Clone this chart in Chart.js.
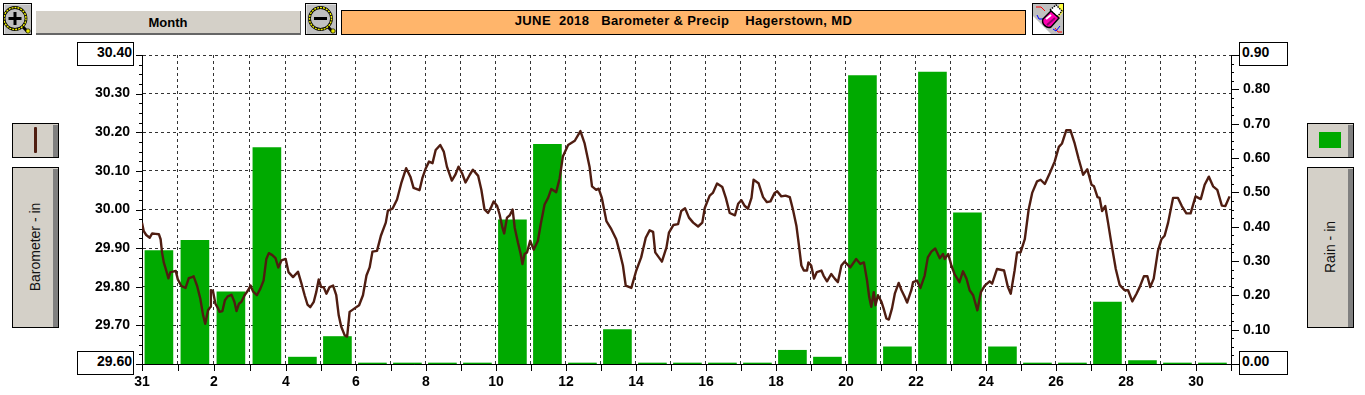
<!DOCTYPE html>
<html>
<head>
<meta charset="utf-8">
<title>JUNE 2018 Barometer & Precip</title>
<script src="https://cdn.jsdelivr.net/npm/chart.js@4"></script>
<style>
html,body{margin:0;padding:0;background:#fff;overflow:hidden}
#wrap{position:relative;width:1365px;height:395px;font-family:"Liberation Sans",Arial,sans-serif}
#chart{position:absolute;left:0;top:0}
.abs{position:absolute;box-sizing:border-box}
.btn{background:#d4d0c8;border:1px solid #000}
.strip{position:absolute;right:0;top:1px;bottom:0;width:5px;background:#808080}
.rot{position:absolute;left:0;top:0;font-size:14px;white-space:nowrap;color:#111;transform:translate(-50%,-50%) rotate(-90deg)}
.valbox{border:1px solid #000;background:#fff;font-weight:bold;font-size:14px;line-height:19px;color:#000}
.icon{border:1px solid #000;background:#c0c0c0;padding:0}
.icon svg{display:block}
</style>
</head>
<body>
<div id="wrap">
  <div class="abs icon" style="left:3px;top:3px;width:29px;height:32px">
    <svg width="27" height="30" viewBox="0 0 27 30">
      <path d="M0 30V0H27" fill="none" stroke="#fff" stroke-width="1"/>
      <line x1="19" y1="23" x2="24" y2="28" stroke="#000" stroke-width="3"/>
      <circle cx="24" cy="27" r="2.2" fill="#e8e800" stroke="#000" stroke-width="0.7"/>
      <circle cx="11" cy="14.5" r="11" fill="#c0c0c0" stroke="#000" stroke-width="2.8"/>
      <circle cx="11" cy="14.5" r="11" fill="none" stroke="#f0f000" stroke-width="1.4" stroke-dasharray="2 1"/>
      <path d="M4.5 14.5H17.5M11 8V21" stroke="#000" stroke-width="3"/>
    </svg>
  </div>
  <div class="abs btn" style="left:36px;top:11px;width:265px;height:24px;border:0;border-bottom:2px solid #666;border-right:1px solid #666;font-weight:bold;font-size:13px;line-height:23px;text-align:center;color:#000">Month</div>
  <div class="abs icon" style="left:305px;top:3px;width:32px;height:32px">
    <svg width="30" height="30" viewBox="0 0 30 30">
      <path d="M0 30V0H30" fill="none" stroke="#fff" stroke-width="1"/>
      <line x1="22" y1="23" x2="27" y2="28" stroke="#000" stroke-width="3"/>
      <circle cx="27" cy="27" r="2.2" fill="#e8e800" stroke="#000" stroke-width="0.7"/>
      <circle cx="14.5" cy="14.5" r="11" fill="#c0c0c0" stroke="#000" stroke-width="2.8"/>
      <circle cx="14.5" cy="14.5" r="11" fill="none" stroke="#f0f000" stroke-width="1.4" stroke-dasharray="2 1"/>
      <path d="M8 14.5H21" stroke="#000" stroke-width="3"/>
    </svg>
  </div>
  <div class="abs" id="titleBar" style="left:341px;top:10px;width:685px;height:25px;background:#ffb56b;border:1px solid #000;font-weight:bold;font-size:13px;letter-spacing:.37px;line-height:19px;text-align:center;white-space:pre;color:#000"></div>
  <div class="abs icon" style="left:1032px;top:3px;width:32px;height:32px">
    <svg width="30" height="30" viewBox="0 0 30 30">
      <path d="M0 30V0H30V30Z" fill="#c0c0c0"/>
      <path d="M0 30V12L18 30Z" fill="#fff"/>
      <path d="M22 8L27 0H30V8L26 13Z" fill="#ffff40"/>
      <path d="M3 3H8L12 7M22 24L25 28H29" fill="none" stroke="#f00" stroke-width="1"/>
      <path d="M4 11L6 15H10M20 25L23 27L27 22" fill="none" stroke="#00f" stroke-width="1"/>
      <path d="M17 6L23 1L29 7L24 13Z" fill="#fff" stroke="#000" stroke-width="1.4" stroke-dasharray="1.5 1"/>
      <path d="M10 15L18 7L26 14L18 23C14 25 8 20 10 15Z" fill="#ff00b0" stroke="#000" stroke-width="1.4"/>
      <path d="M13 15L18 11" stroke="#fff" stroke-width="2"/>
      <path d="M14 21L22 14" stroke="#90006a" stroke-width="2"/>
    </svg>
  </div>

  <div class="abs btn" style="left:12px;top:123px;width:47px;height:35px"><div class="strip"></div>
    <div style="position:absolute;left:21px;top:3px;width:3px;height:26px;background:#4f1d11;border-radius:1px"></div></div>
  <div class="abs btn" style="left:12px;top:167px;width:47px;height:161px"><div class="strip"></div>
    <div class="rot" id="leftAxisTitle" style="left:22px;top:79px"></div></div>
  <div class="abs btn" style="left:1307px;top:123px;width:47px;height:35px"><div class="strip"></div>
    <div style="position:absolute;left:11px;top:8px;width:22px;height:16px;background:#00aa00"></div></div>
  <div class="abs btn" style="left:1307px;top:167px;width:47px;height:161px"><div class="strip"></div>
    <div class="rot" id="rightAxisTitle" style="left:22px;top:79px"></div></div>

  <div class="abs valbox" id="pressTop" style="left:77px;top:42px;width:57px;height:24px;text-align:right;padding-right:1px"></div>
  <div class="abs valbox" id="pressBottom" style="left:77px;top:351px;width:57px;height:24px;text-align:right;padding-right:1px"></div>
  <div class="abs valbox" id="rainTop" style="left:1239px;top:42px;width:49px;height:24px;padding-left:2px"></div>
  <div class="abs valbox" id="rainBottom" style="left:1239px;top:351px;width:49px;height:24px;padding-left:2px"></div>

  <canvas id="chart" width="1365" height="395"></canvas>
</div>
<script>
// --- Data ---
const titleText = "JUNE  2018   Barometer & Precip    Hagerstown, MD";
const leftTitle = "Barometer - in";
const rightTitle = "Rain - in";

// day boundaries, the chart starts at midnight of May 31
const dayLabels = ["31","1","2","3","4","5","6","7","8","9","10","11","12","13","14","15","16","17","18","19","20","21","22","23","24","25","26","27","28","29","30"];

const rainValues = [0.33,0.36,0.21,0.63,0.02,0.08,0,0,0,0,0.42,0.64,0,0.10,0,0,0,0,0.04,0.02,0.84,0.05,0.85,0.44,0.05,0,0,0.18,0.01,0,0];

// read on an even 31-day ruler over the plot width
const pressureDays = [
0,.05,.12,.22,.29,.39,.48,.53,.57,.62,.69,.75,.81,.88,.96,1.02,1.12,1.24,1.33,1.40,1.47,1.57,1.66,1.74,1.80,1.88,1.95,1.96,2.02,2.09,2.14,2.21,2.29,2.36,2.44,2.55,2.63,2.69,2.76,2.83,2.92,3.02,3.09,3.16,3.27,3.37,3.46,3.54,3.61,3.71,3.80,3.88,3.97,4.09,4.17,4.30,4.44,4.54,4.63,4.71,4.79,4.89,4.96,5.03,5.10,5.17,5.25,5.34,5.44,5.53,5.60,5.67,5.77,5.84,5.91,6.05,6.18,6.29,6.39,6.48,6.56,6.69,6.80,6.94,7.00,7.13,7.26,7.38,7.52,7.64,7.73,7.90,
7.98,8.08,8.17,8.27,8.36,8.49,8.59,8.68,8.82,8.92,9.01,9.11,9.21,9.33,9.42,9.57,9.66,9.75,9.85,9.93,10.01,10.11,10.18,10.26,10.31,10.39,10.47,10.55,10.61,10.70,10.78,10.83,10.89,10.96,11.05,11.15,11.27,11.35,11.46,11.56,11.65,11.79,11.89,11.98,12.13,12.32,12.48,12.60,12.74,12.81,12.93,13.00,13.09,13.22,13.36,13.50,13.60,13.69,13.77,13.93,14.07,14.21,14.34,14.45,14.55,14.61,14.80,14.93,15.00,15.13,15.26,15.35,15.46,15.57,
15.69,15.83,15.95,16.02,16.16,16.25,16.37,16.52,16.62,16.73,16.88,16.97,17.06,17.16,17.25,17.35,17.41,17.55,17.68,17.79,17.89,18.01,18.08,18.20,18.32,18.44,18.53,18.63,18.69,18.77,18.84,18.93,18.97,19.05,19.13,19.21,19.34,19.40,19.50,19.62,19.72,19.81,19.91,20.00,20.16,20.33,20.45,20.55,20.64,20.70,20.76,20.83,20.88,20.95,21.05,21.11,21.19,21.26,21.35,21.43,21.54,21.62,21.71,21.78,21.90,21.95,22.06,22.16,22.28,22.37,22.47,22.58,22.71,22.80,22.85,22.95,23.04,23.13,
23.27,23.37,23.47,23.56,23.66,23.78,23.88,23.99,24.13,24.20,24.34,24.54,24.65,24.73,24.84,24.91,25.01,25.13,25.24,25.34,25.48,25.58,25.70,25.84,25.98,26.10,26.19,26.31,26.43,26.55,26.66,26.79,26.91,27.03,27.10,27.20,27.26,27.33,27.42,27.50,27.59,27.72,27.83,27.97,28.07,28.19,28.31,28.40,28.52,28.62,28.70,28.80,28.92,29.02,29.11,29.21,29.35,29.49,29.60,29.73,29.85,29.99,30.14,30.25,30.37,30.49,30.61,30.74,30.84,30.96];

const pressureValues = [
29.966,29.944,29.934,29.927,29.938,29.937,29.936,29.923,29.889,29.863,29.842,29.822,29.838,29.839,29.841,29.819,29.802,29.797,29.822,29.824,29.827,29.802,29.769,29.726,29.704,29.739,29.748,29.791,29.789,29.756,29.748,29.735,29.737,29.765,29.775,29.779,29.761,29.737,29.756,29.761,29.778,29.791,29.803,29.788,29.778,29.795,29.816,29.872,29.887,29.882,29.874,29.850,29.868,29.872,29.838,29.825,29.839,29.808,29.778,29.754,29.747,29.761,29.786,29.819,29.799,29.799,29.782,29.799,29.803,29.778,29.726,29.697,29.674,29.671,29.735,29.744,29.752,29.778,29.829,29.850,29.891,29.893,29.932,29.966,29.997,30.002,30.026,30.068,30.107,30.085,30.056,30.050,
30.081,30.107,30.124,30.120,30.154,30.167,30.150,30.111,30.075,30.090,30.111,30.094,30.070,30.090,30.103,30.087,30.051,30.000,29.991,30.004,30.021,30.009,29.987,29.953,29.938,29.979,29.985,30.000,29.953,29.915,29.885,29.859,29.885,29.889,29.919,29.896,29.919,29.962,30.013,30.030,30.053,30.045,30.081,30.137,30.167,30.178,30.203,30.171,30.111,30.060,30.051,30.054,30.030,29.970,29.949,29.923,29.889,29.855,29.803,29.797,29.842,29.876,29.927,29.946,29.942,29.889,29.865,29.902,29.940,29.960,29.962,29.996,30.003,29.979,
29.966,29.956,29.966,30.004,30.036,30.043,30.067,30.058,30.030,29.991,29.985,30.015,30.024,30.009,30.002,30.030,30.077,30.068,30.032,30.019,30.021,30.043,30.047,30.034,30.036,30.032,30.000,29.957,29.915,29.855,29.842,29.842,29.863,29.855,29.821,29.838,29.842,29.829,29.814,29.833,29.821,29.812,29.855,29.865,29.850,29.872,29.859,29.863,29.816,29.774,29.748,29.786,29.752,29.778,29.761,29.744,29.718,29.715,29.744,29.782,29.810,29.791,29.774,29.759,29.791,29.812,29.816,29.797,29.829,29.876,29.891,29.899,29.874,29.885,29.872,29.885,29.855,29.833,
29.812,29.840,29.821,29.791,29.778,29.739,29.786,29.803,29.814,29.808,29.846,29.842,29.799,29.782,29.842,29.889,29.889,29.923,30.000,30.043,30.073,30.077,30.066,30.094,30.124,30.162,30.171,30.205,30.205,30.171,30.132,30.090,30.104,30.064,30.060,30.032,30.030,29.996,30.009,29.966,29.915,29.846,29.805,29.791,29.791,29.762,29.782,29.799,29.827,29.827,29.799,29.821,29.893,29.923,29.932,29.966,30.030,30.030,30.009,29.990,29.990,30.034,30.027,30.064,30.085,30.060,30.051,30.010,30.009,30.034];

// --- Page text ---
document.getElementById("titleBar").textContent = titleText;
document.getElementById("leftAxisTitle").textContent = leftTitle;
document.getElementById("rightAxisTitle").textContent = rightTitle;
document.getElementById("pressTop").textContent = "30.40";
document.getElementById("pressBottom").textContent = "29.60";
document.getElementById("rainTop").textContent = "0.90";
document.getElementById("rainBottom").textContent = "0.00";

const tickFont = {family:"Liberation Sans", size:14, weight:"bold"};

// the first four days are drawn a little wider in the original (36 against 35 for the rest)
const wideDay = 36, restDay = 35.01, allDays = 4*wideDay + 27*restDay;

class DayScale extends Chart.LinearScale {
    static id = "dayScale";
    getPixelForValue(v){
        const w = v<=4 ? v*wideDay : 4*wideDay + (v-4)*restDay;
        return this.left + this.width*w/allDays;
    }
}
Chart.register(DayScale);

// pressureDays are on the even ruler, this puts them on the day scale above
function evenToDay(d){
    const w = d/31*allDays;
    return w<=4*wideDay ? w/wideDay : 4 + (w-4*wideDay)/restDay;
}

// minor and major tick marks, Chart.js only does one tick length per axis
const tickMarks = {
    id:"tickMarks",
    afterDatasetsDraw(c){
        const ctx = c.ctx, a = c.chartArea;
        ctx.save();
        ctx.strokeStyle = "#000";
        ctx.lineWidth = 1;
        const line = (x1,y1,x2,y2)=>{ctx.beginPath();ctx.moveTo(x1,y1);ctx.lineTo(x2,y2);ctx.stroke();};
        for(let i=0;i<=32;i++){
            const y = Math.round(c.scales.y.getPixelForValue(29.6+i*0.025))+0.5;
            line(a.left-(i%4===0?6:3),y,a.left,y);
        }
        for(let i=0;i<=36;i++){
            const y = Math.round(c.scales.y1.getPixelForValue(i*0.025))+0.5;
            line(a.right,y,a.right+(i%4===0?8:3),y);
        }
        for(let i=0;i<=31;i++){
            const x = Math.round(c.scales.x.getPixelForValue(i))+0.5;
            line(x,a.bottom,x,a.bottom+7);
        }
        ctx.restore();
    }
};

new Chart(document.getElementById("chart"),{
    type:"bar",
    data:{
        datasets:[
            {type:"line",label:"Barometer",yAxisID:"y",order:1,
             data:pressureDays.map((d,i)=>({x:evenToDay(d),y:pressureValues[i]})),
             borderColor:"#4f1d11",borderWidth:2.4,pointRadius:0,tension:0,borderJoinStyle:"round",fill:false},
            {type:"bar",label:"Rain",yAxisID:"y1",order:2,
             data:rainValues.map((v,i)=>({x:i+0.47,y:v})),
             backgroundColor:"#00aa00",barThickness:28,minBarLength:1}
        ]
    },
    plugins:[tickMarks],
    options:{
        responsive:false,
        animation:false,
        layout:{padding:{top:55}},
        plugins:{legend:{display:false},tooltip:{enabled:false}},
        scales:{
            x:{type:"dayScale",min:0,max:31,offset:false,
               afterFit(s){s.height=31;},
               grid:{color:"#333",offset:false,drawTicks:false},
               border:{color:"#000",dash:[3,3]},
               ticks:{stepSize:1,autoSkip:false,maxRotation:0,padding:10,color:"#000",font:tickFont,
                      callback:(v)=>(v%2===0 && dayLabels[v]!==undefined)?dayLabels[v]:""}},
            y:{position:"left",min:29.6,max:30.4,
               afterFit(s){s.width=142;},
               grid:{color:"#333",drawTicks:false},
               border:{color:"#000",dash:[3,3]},
               ticks:{stepSize:0.1,padding:12,color:"#000",font:tickFont,
                      callback:(v,i,t)=>(i===0||i===t.length-1)?"":v.toFixed(2)}},
            y1:{position:"right",min:0,max:0.9,
               afterFit(s){s.width=134;},
               grid:{display:false,drawTicks:false},
               border:{color:"#000"},
               ticks:{stepSize:0.1,padding:12,color:"#000",font:tickFont,
                      callback:(v,i,t)=>(i===0||i===t.length-1)?"":v.toFixed(2)}}
        }
    }
});
</script>
</body>
</html>
